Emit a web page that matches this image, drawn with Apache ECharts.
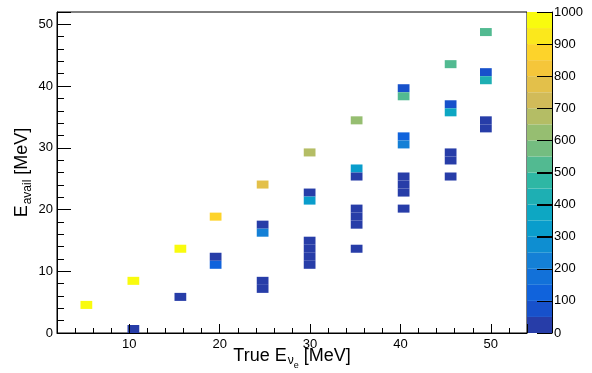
<!DOCTYPE html>
<html><head><meta charset="utf-8">
<script src="https://cdn.jsdelivr.net/npm/echarts@6/dist/echarts.min.js"></script>
<style>html,body{margin:0;padding:0;background:#fff}#c{width:592px;height:373px}</style>
</head><body><div id="c"></div>
<script>
// Histogram binning (MeV)
const binW = 1.3, binH = 1.3;
// Bin centres (True E_nu_e, E_avail) and bin contents
const cellX = [
  5.25,
  10.45, 10.45,
  15.65, 15.65,
  19.55, 19.55, 19.55,
  24.75, 24.75, 24.75, 24.75, 24.75,
  29.95, 29.95, 29.95, 29.95, 29.95, 29.95, 29.95,
  35.15, 35.15, 35.15, 35.15, 35.15, 35.15, 35.15,
  40.35, 40.35, 40.35, 40.35, 40.35, 40.35, 40.35, 40.35,
  45.55, 45.55, 45.55, 45.55, 45.55, 45.55,
  49.45, 49.45, 49.45, 49.45, 49.45
];
const cellY = [
  4.55,
  8.45, 0.65,
  13.65, 5.85,
  18.85, 12.35, 11.05,
  24.05, 17.55, 16.25, 8.45, 7.15,
  29.25, 22.75, 21.45, 14.95, 13.65, 12.35, 11.05,
  34.45, 26.65, 25.35, 20.15, 18.85, 17.55, 13.65,
  39.65, 38.35, 31.85, 30.55, 25.35, 24.05, 22.75, 20.15,
  43.55, 37.05, 35.75, 29.25, 27.95, 25.35,
  48.75, 42.25, 40.95, 34.45, 33.15
];
const cellCount = [
  980,
  970, 20,
  960, 20,
  875, 25, 125,
  775, 25, 225, 25, 25,
  675, 25, 325, 25, 25, 25, 25,
  625, 325, 25, 25, 25, 25, 25,
  75, 525, 125, 225, 25, 25, 25, 25,
  525, 75, 375, 25, 25, 25,
  525, 75, 425, 25, 25
];
// colour scale
const zMin = 0, zMax = 1000, nLevels = 20, zLabelStep = 100;

// kBird palette
const bR = [0.2082,0.0592,0.0780,0.0232,0.1802,0.5301,0.8186,0.9956,0.9764];
const bG = [0.1664,0.3599,0.5041,0.6419,0.7178,0.7492,0.7328,0.7862,0.9832];
const bB = [0.5293,0.8684,0.8385,0.7914,0.6425,0.4662,0.3499,0.1968,0.0539];
function bird(t){
  t = Math.max(0, Math.min(1, t));
  const s = t * 8; let i = Math.floor(s); if (i >= 8) i = 7; const f = s - i;
  const c = a => Math.round(255 * (a[i] + (a[i+1]-a[i]) * f));
  return 'rgb(' + c(bR) + ',' + c(bG) + ',' + c(bB) + ')';
}
function levelColor(v){
  let k = Math.floor((v - zMin) / (zMax - zMin) * nLevels);
  k = Math.max(0, Math.min(nLevels - 1, k));
  const idx = Math.floor((k + 0.99) * 255 / nLevels);
  return bird(idx / 254);
}
function isLabelLevel(v){ return Math.abs(v / zLabelStep - Math.round(v / zLabelStep)) < 1e-6; }

const cells = cellX.map((x, i) => [x, cellY[i], cellCount[i]]);
const levels = [];
for (let k = 0; k < nLevels; k++) levels.push([zMin + k * (zMax - zMin) / nLevels]);
const levelStep = (zMax - zMin) / nLevels;

const FONT = 'Liberation Sans';
const chart = echarts.init(document.getElementById('c'), null, {renderer: 'canvas'});
chart.setOption({
  animation: false,
  backgroundColor: '#fff',
  grid: [
    {left: 57, right: 65, top: 12, bottom: 40, show: true, borderColor: '#000', borderWidth: 1, backgroundColor: 'transparent', containLabel: false, outerBoundsMode: 'none'},
    {left: 527, right: 40, top: 12, bottom: 40, show: false, containLabel: false, outerBoundsMode: 'none'}
  ],
  xAxis: [
    {
      type: 'value', gridIndex: 0, min: 2, max: 54, splitNumber: 5, z: 10,
      axisLine: {show: true, onZero: false, lineStyle: {color: '#000', width: 1}},
      axisTick: {show: true, inside: true, length: 9, lineStyle: {color: '#000'}},
      minorTick: {show: true, splitNumber: 5, length: 5, lineStyle: {color: '#000'}},
      splitLine: {show: false},
      axisLabel: {fontFamily: FONT, fontSize: 13, color: '#000', margin: 5, showMinLabel: false, showMaxLabel: false},
      name: '{n|True E}{s|ν}{ss|e}{n| [MeV]}',
      nameLocation: 'middle', nameGap: 14, nameMoveOverlap: false,
      nameTextStyle: {
        rich: {
          n: {fontFamily: FONT, fontSize: 18, color: '#000', lineHeight: 20, verticalAlign: 'top'},
          s: {fontFamily: FONT, fontSize: 12, color: '#000', lineHeight: 12, verticalAlign: 'top', padding: [8, 0, 0, 1]},
          ss: {fontFamily: FONT, fontSize: 9, color: '#000', lineHeight: 9, verticalAlign: 'top', padding: [14, 0, 0, 0]}
        }
      }
    },
    {type: 'value', gridIndex: 1, min: 0, max: 1, show: false}
  ],
  yAxis: [
    {
      type: 'value', gridIndex: 0, min: 0, max: 52, splitNumber: 5, z: 10,
      axisLine: {show: true, onZero: false, lineStyle: {color: '#000', width: 1}},
      axisTick: {show: true, inside: true, length: 14, lineStyle: {color: '#000'}},
      minorTick: {show: true, splitNumber: 5, length: 7, lineStyle: {color: '#000'}},
      splitLine: {show: false},
      axisLabel: {fontFamily: FONT, fontSize: 13, color: '#000', margin: 4, showMaxLabel: false},
      name: '{n|E}{s|avail}{n| [MeV]}',
      nameLocation: 'middle', nameGap: 24, nameRotate: 90, nameMoveOverlap: false,
      nameTextStyle: {
        rich: {
          n: {fontFamily: FONT, fontSize: 18, color: '#000', lineHeight: 20, verticalAlign: 'top'},
          s: {fontFamily: FONT, fontSize: 12, color: '#000', lineHeight: 12, verticalAlign: 'top', padding: [9, 0, 0, 1]}
        }
      }
    },
    {
      type: 'value', gridIndex: 1, min: zMin, max: zMax, interval: zLabelStep, position: 'right', z: 10,
      axisLine: {show: true, onZero: false, lineStyle: {color: '#000', width: 1}},
      axisTick: {show: true, inside: true, length: 15, lineStyle: {color: '#000', width: 1}},
      splitLine: {show: false},
      axisLabel: {fontFamily: FONT, fontSize: 13, color: '#000', margin: 2, formatter: v => String(v)}
    }
  ],
  series: [
    {
      type: 'custom', xAxisIndex: 0, yAxisIndex: 0, data: cells, clip: true,
      renderItem: function(params, api){
        const x = api.value(0), y = api.value(1), v = api.value(2);
        const p0 = api.coord([x - binW/2, y - binH/2]);
        const p1 = api.coord([x + binW/2, y + binH/2]);
        return {type: 'rect', shape: {x: p0[0], y: p1[1], width: p1[0]-p0[0], height: p0[1]-p1[1]},
                style: {fill: levelColor(v)}};
      }
    },
    {
      type: 'custom', xAxisIndex: 1, yAxisIndex: 1, data: levels, silent: true,
      renderItem: function(params, api){
        const lo = api.value(0), hi = lo + levelStep;
        const p0 = api.coord([0, lo]);
        const p1 = api.coord([1, hi]);
        const children = [{type: 'rect', shape: {x: p0[0], y: p1[1], width: p1[0]-p0[0], height: p0[1]-p1[1]},
                style: {fill: levelColor(lo + levelStep/2)}}];
        const tick = (yv) => {
          const yy = Math.round(yv) - 0.5;
          children.push({type: 'line', shape: {x1: p1[0] - 15, y1: yy, x2: p1[0], y2: yy},
                         style: {stroke: '#000', lineWidth: 1}});
        };
        if (lo > zMin && isLabelLevel(lo)) tick(p0[1] + 1);
        if (hi >= zMax) tick(p1[1] + 1);
        return {type: 'group', children: children};
      }
    }
  ]
});
</script></body></html>
